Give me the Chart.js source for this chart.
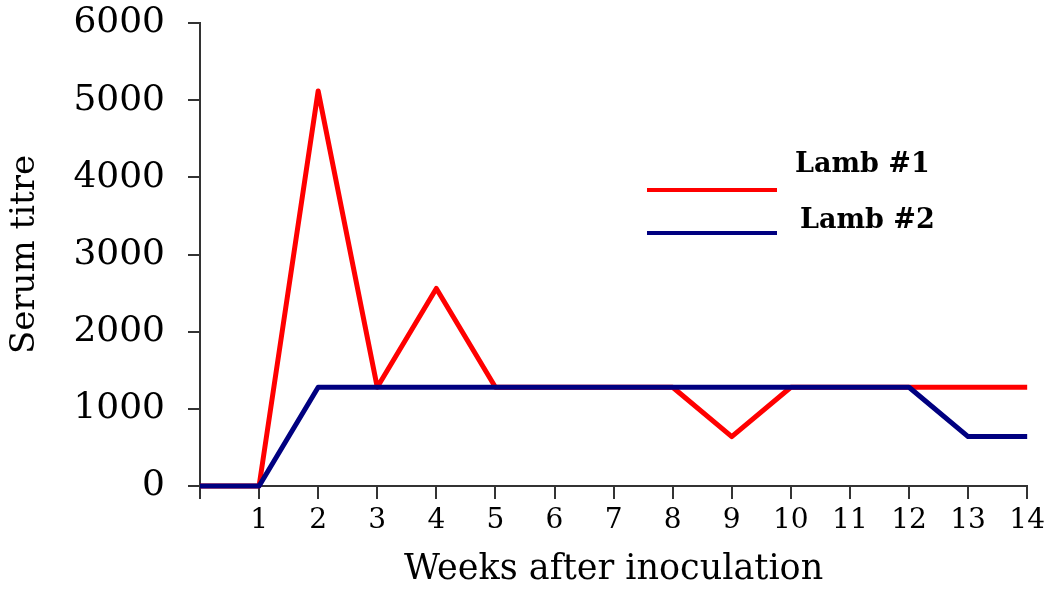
<!DOCTYPE html>
<html>
<head>
<meta charset="utf-8">
<script src="https://cdn.jsdelivr.net/npm/chart.js@4.4.0/dist/chart.umd.min.js"></script>
<style>
  html, body { margin: 0; padding: 0; background: #fff; }
  #wrap { width: 1050px; height: 599px; }
</style>
</head>
<body>
<div id="wrap"><canvas id="titreChart" width="1050" height="599"></canvas></div>
<script>
// weeks after inoculation and serum titres
var weeks = [0, 1, 2, 3, 4, 5, 6, 7, 8, 9, 10, 11, 12, 13, 14];
var lamb1 = [0, 0, 5120, 1280, 2560, 1280, 1280, 1280, 1280, 640, 1280, 1280, 1280, 1280, 1280];
var lamb2 = [0, 0, 1280, 1280, 1280, 1280, 1280, 1280, 1280, 1280, 1280, 1280, 1280, 640, 640];
var seriesNames = ["Lamb #1", "Lamb #2"];
var yTicks = [0, 1000, 2000, 3000, 4000, 5000, 6000];

var FONT = "'DejaVu Serif', 'Liberation Serif', serif";

function toPoints(vals) {
  return weeks.map(function(w, i) { return {x: w, y: vals[i]}; });
}

// legend drawn by hand, the way it sits in the original figure
var lambLegend = {
  id: 'lambLegend',
  afterDraw: function(chart) {
    var ctx = chart.ctx;
    var spots = [
      {lineY: 190, textX: 795, textY: 165},
      {lineY: 233, textX: 800, textY: 221}
    ];
    ctx.save();
    chart.data.datasets.forEach(function(ds, i) {
      var s = spots[i];
      ctx.strokeStyle = ds.borderColor;
      ctx.lineWidth = 4;
      ctx.beginPath();
      ctx.moveTo(647, s.lineY);
      ctx.lineTo(777, s.lineY);
      ctx.stroke();
      ctx.fillStyle = '#000';
      ctx.font = "bold 27px " + FONT;
      ctx.textBaseline = 'middle';
      ctx.textAlign = 'left';
      ctx.fillText(ds.label, s.textX, s.textY);
    });
    ctx.restore();
  }
};

var ctx = document.getElementById("titreChart");
var chart = new Chart(ctx, {
  type: 'line',
  data: {
    datasets: [{
      label: seriesNames[0],
      data: toPoints(lamb1),
      borderColor: '#ff0000',
      borderWidth: 5,
      borderJoinStyle: 'round',
      pointRadius: 0,
      tension: 0,
      clip: false,
      order: 1
    }, {
      label: seriesNames[1],
      data: toPoints(lamb2),
      borderColor: '#000080',
      borderWidth: 5,
      borderJoinStyle: 'round',
      pointRadius: 0,
      tension: 0,
      clip: false,
      order: 0
    }]
  },
  options: {
    responsive: false,
    animation: false,
    layout: { padding: { left: 0, right: 22, top: 23, bottom: 0 } },
    plugins: {
      legend: { display: false },
      tooltip: { enabled: false }
    },
    scales: {
      x: {
        type: 'linear',
        min: 0,
        max: 14,
        afterFit: function(scale) { scale.height = 113; },
        afterBuildTicks: function(scale) {
          scale.ticks = weeks.map(function(w) { return {value: w}; });
        },
        ticks: {
          autoSkip: false,
          maxRotation: 0,
          padding: 5,
          color: '#000',
          font: { family: FONT, size: 28 },
          callback: function(v) { return v === 0 ? '' : String(v); }
        },
        grid: { drawOnChartArea: false, drawTicks: true, tickLength: 13, color: '#333', lineWidth: 2 },
        border: { display: true, color: '#333', width: 2 },
        title: {
          display: true,
          text: 'Weeks after inoculation',
          color: '#000',
          padding: { top: 0, bottom: 8 },
          font: { family: FONT, size: 35 }
        }
      },
      y: {
        min: 0,
        max: 6000,
        afterFit: function(scale) {
          scale.width = 200;
          scale.paddingTop = 0;
          scale.paddingBottom = 0;
        },
        afterBuildTicks: function(scale) {
          scale.ticks = yTicks.map(function(v) { return {value: v}; });
        },
        ticks: {
          padding: 23,
          color: '#000',
          font: { family: FONT, size: 36 },
          callback: function(v) { return String(v); }
        },
        grid: { drawOnChartArea: false, drawTicks: true, tickLength: 12, color: '#333', lineWidth: 2 },
        border: { display: true, color: '#333', width: 2 },
        title: {
          display: true,
          text: 'Serum titre',
          color: '#000',
          padding: { top: 5, bottom: 0 },
          font: { family: FONT, size: 34 }
        }
      }
    }
  },
  plugins: [lambLegend]
});
</script>
</body>
</html>
